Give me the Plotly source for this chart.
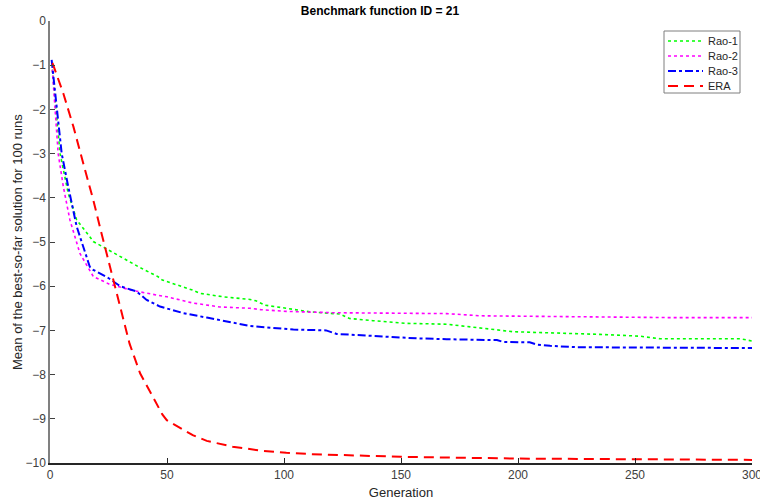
import plotly.graph_objects as go

# ---- data ----
rao1_gen = [1, 2.8, 4.3, 7.8, 11.4, 17, 18.5, 24, 30, 38.5, 46, 48, 61, 64, 74, 85.5, 88, 92, 101, 111, 124, 128, 138, 152, 169.5, 182, 198, 235, 252, 260.7, 295, 300]
rao1_val = [-1.1, -2.08, -3.0, -3.9, -4.5, -4.88, -4.99, -5.15, -5.33, -5.58, -5.78, -5.86, -6.09, -6.16, -6.24, -6.3, -6.33, -6.43, -6.5, -6.58, -6.63, -6.73, -6.78, -6.84, -6.86, -6.93, -7.03, -7.09, -7.13, -7.19, -7.19, -7.24]

rao2_gen = [1, 2.1, 3.5, 5.7, 8.5, 12.8, 18.5, 25.6, 35.6, 45.6, 50, 61, 72.6, 85.5, 90, 101, 121, 169.5, 184, 263.5, 300]
rao2_val = [-1.1, -1.94, -3.0, -3.75, -4.5, -5.26, -5.78, -5.96, -6.1, -6.2, -6.24, -6.38, -6.47, -6.5, -6.53, -6.57, -6.6, -6.62, -6.67, -6.71, -6.71]

rao3_gen = [0.7, 2.8, 5, 7.8, 11.4, 17, 18.5, 24.8, 30, 37, 41.3, 47, 57, 67, 75.5, 85.5, 104, 118, 122.5, 138, 156.7, 169.5, 191, 193.6, 205, 208, 213.7, 225, 300]
rao3_val = [-0.88, -1.86, -3.0, -3.75, -4.65, -5.56, -5.63, -5.81, -6.0, -6.12, -6.31, -6.46, -6.61, -6.71, -6.8, -6.9, -6.98, -7.0, -7.08, -7.13, -7.18, -7.2, -7.22, -7.26, -7.27, -7.32, -7.35, -7.38, -7.4]

era_gen = [1, 1.4, 5.7, 10, 14.2, 18.5, 22, 26.4, 30.6, 34, 38.5, 44, 48, 49.9, 55.6, 61, 67, 78, 90, 101, 112, 125, 150, 200, 250, 300]
era_val = [-0.95, -1.0, -1.64, -2.39, -3.22, -4.05, -4.8, -5.7, -6.6, -7.3, -7.97, -8.5, -8.9, -9.03, -9.2, -9.37, -9.5, -9.63, -9.72, -9.77, -9.8, -9.82, -9.86, -9.9, -9.92, -9.93]

series_names = ["Rao-1", "Rao-2", "Rao-3", "ERA"]
x_ticks = [0, 50, 100, 150, 200, 250, 300]
y_ticks = [0, -1, -2, -3, -4, -5, -6, -7, -8, -9, -10]

styles = [
    dict(color="#00ff00", width=1.6, dash="dot"),
    dict(color="#ff00ff", width=1.6, dash="dot"),
    dict(color="#0000ff", width=2, dash="8px,3px,3px,3px"),
    dict(color="#ff0000", width=2, dash="10px,6px"),
]

fig = go.Figure()
for name, gx, gy, st in zip(series_names,
                            [rao1_gen, rao2_gen, rao3_gen, era_gen],
                            [rao1_val, rao2_val, rao3_val, era_val], styles):
    fig.add_trace(go.Scatter(x=gx, y=gy, mode="lines", name=name, line=st, showlegend=False))

# plot-area geometry in pixels (for the legend box placement)
L, R, T, B = 50, 752, 21, 463
def px(xp): return (xp - L) / (R - L)
def py(yp): return (B - yp) / (B - T)

font = "Liberation Sans, Arial, sans-serif"
shapes = [dict(type="rect", xref="paper", yref="paper", x0=px(664), x1=px(740),
               y0=py(93), y1=py(31), line=dict(color="#7f7f7f", width=1), fillcolor="white",
               layer="above")]
annotations = []
row_y = [41, 56, 71, 86]
for name, st, ry in zip(series_names, styles, row_y):
    shapes.append(dict(type="line", xref="paper", yref="paper", x0=px(668), x1=px(703),
                       y0=py(ry), y1=py(ry), line=dict(color=st["color"], width=st["width"],
                                                        dash=st["dash"]), layer="above"))
    annotations.append(dict(xref="paper", yref="paper", x=px(706), y=py(ry), text=name,
                            showarrow=False, xanchor="left", yanchor="middle",
                            font=dict(size=11, color="#262626", family=font)))

# y-axis title
annotations.append(dict(xref="paper", yref="paper", x=px(17), y=0.5,
                        text="Mean of the best-so-far solution for 100 runs",
                        textangle=-90, showarrow=False, xanchor="center", yanchor="middle",
                        font=dict(size=13, color="#262626", family=font)))

fig.update_layout(
    width=760, height=503,
    margin=dict(l=L, r=760 - R, t=T, b=503 - B),
    plot_bgcolor="white", paper_bgcolor="white",
    font=dict(family=font, size=12, color="#262626"),
    title=dict(text="<b>Benchmark function ID = 21</b>", x=0.5, xanchor="center",
               y=1 - 11/503, yanchor="middle", font=dict(size=12, color="black", family=font)),
    shapes=shapes, annotations=annotations,
    showlegend=False,
)
fig.update_xaxes(range=[0, 300], tickvals=x_ticks, ticks="inside", ticklen=5,
                 tickcolor="#262626", showline=True, linecolor="#262626", linewidth=1.5,
                 showgrid=False, zeroline=False, mirror=False, automargin=False,
                 ticklabeloverflow="allow",
                 tickfont=dict(size=12, color="#404040"),
                 title=dict(text="Generation", font=dict(size=13, color="#262626"), standoff=7))
fig.update_yaxes(range=[-10, 0], tickvals=y_ticks, ticks="inside", ticklen=5,
                 tickcolor="#404040", showline=True, linecolor="#808080", linewidth=1.5,
                 showgrid=False, zeroline=False, mirror=False, automargin=False,
                 ticklabeloverflow="allow",
                 tickfont=dict(size=12, color="#404040"))

fig.write_html("out.html")
